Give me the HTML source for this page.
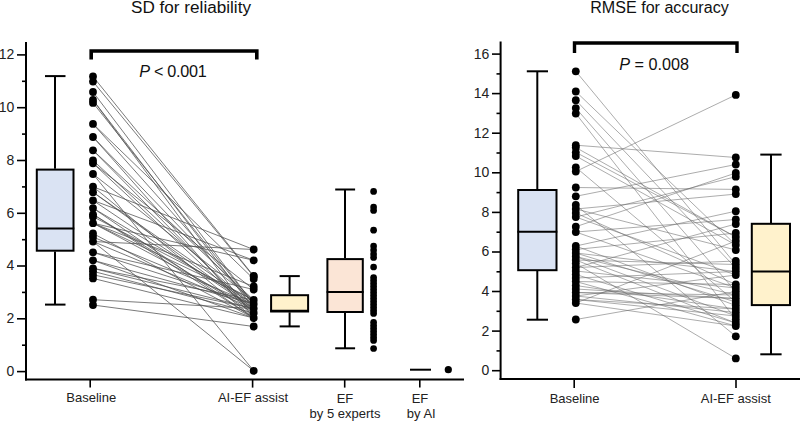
<!DOCTYPE html>
<html><head><meta charset="utf-8"><style>
html,body{margin:0;padding:0;background:#fff;width:800px;height:422px;overflow:hidden}
svg{display:block;font-family:"Liberation Sans", sans-serif}
</style></head><body>
<svg width="800" height="422" viewBox="0 0 800 422">
<rect width="800" height="422" fill="#fff"/>
<text x="191" y="13.2" font-size="15.6" text-anchor="middle" fill="#111" textLength="120" lengthAdjust="spacingAndGlyphs">SD for reliability</text>
<text x="659.5" y="13.2" font-size="15.6" text-anchor="middle" fill="#111" textLength="138.5" lengthAdjust="spacingAndGlyphs">RMSE for accuracy</text>
<g stroke="#4d4d4d" stroke-width="0.75" fill="none">
<line x1="93.0" y1="76.5" x2="253.7" y2="276"/>
<line x1="93.0" y1="81.6" x2="253.7" y2="276.5"/>
<line x1="93.0" y1="92" x2="253.7" y2="304"/>
<line x1="93.0" y1="100" x2="253.7" y2="308.5"/>
<line x1="93.0" y1="102.9" x2="253.7" y2="304"/>
<line x1="93.0" y1="123.9" x2="253.7" y2="279"/>
<line x1="93.0" y1="137" x2="253.7" y2="318"/>
<line x1="93.0" y1="150.3" x2="253.7" y2="300"/>
<line x1="93.0" y1="160.4" x2="253.7" y2="308.5"/>
<line x1="93.0" y1="163.3" x2="253.7" y2="313"/>
<line x1="93.0" y1="163.3" x2="253.7" y2="289.5"/>
<line x1="93.0" y1="174" x2="253.7" y2="370.8"/>
<line x1="93.0" y1="186.7" x2="253.7" y2="318"/>
<line x1="93.0" y1="192.2" x2="253.7" y2="304"/>
<line x1="93.0" y1="200.4" x2="253.7" y2="260.3"/>
<line x1="93.0" y1="200.4" x2="253.7" y2="308.5"/>
<line x1="93.0" y1="241.5" x2="253.7" y2="249.5"/>
<line x1="93.0" y1="208.1" x2="253.7" y2="304"/>
<line x1="93.0" y1="214.3" x2="253.7" y2="313"/>
<line x1="93.0" y1="216.7" x2="253.7" y2="300"/>
<line x1="93.0" y1="223.2" x2="253.7" y2="308.5"/>
<line x1="93.0" y1="223.2" x2="253.7" y2="286.5"/>
<line x1="93.0" y1="233.5" x2="253.7" y2="318"/>
<line x1="93.0" y1="237" x2="253.7" y2="304"/>
<line x1="93.0" y1="241.5" x2="253.7" y2="370.8"/>
<line x1="93.0" y1="241.5" x2="253.7" y2="308.5"/>
<line x1="93.0" y1="252.3" x2="253.7" y2="304"/>
<line x1="93.0" y1="252.3" x2="253.7" y2="289.5"/>
<line x1="93.0" y1="260.3" x2="253.7" y2="318"/>
<line x1="93.0" y1="268.3" x2="253.7" y2="300"/>
<line x1="93.0" y1="271.3" x2="253.7" y2="313"/>
<line x1="93.0" y1="274.8" x2="253.7" y2="308.5"/>
<line x1="93.0" y1="278.4" x2="253.7" y2="318"/>
<line x1="93.0" y1="299.7" x2="253.7" y2="308.5"/>
<line x1="93.0" y1="305" x2="253.7" y2="326.5"/>
<line x1="93.0" y1="186.7" x2="253.7" y2="249.5"/>
<line x1="93.0" y1="174" x2="253.7" y2="300"/>
<line x1="93.0" y1="214.3" x2="253.7" y2="318"/>
<line x1="93.0" y1="223.2" x2="253.7" y2="260.3"/>
<line x1="93.0" y1="260.3" x2="253.7" y2="304"/>
<line x1="93.0" y1="150.3" x2="253.7" y2="313"/>
<line x1="93.0" y1="123.9" x2="253.7" y2="304"/>
<line x1="93.0" y1="208.1" x2="253.7" y2="318"/>
<line x1="93.0" y1="223.2" x2="253.7" y2="300"/>
<line x1="93.0" y1="192.2" x2="253.7" y2="308.5"/>
<line x1="93.0" y1="137" x2="253.7" y2="304"/>
<line x1="93.0" y1="100" x2="253.7" y2="318"/>
<line x1="93.0" y1="268.3" x2="253.7" y2="308.5"/>
</g>
<g stroke="#666" stroke-width="0.55" fill="none">
<line x1="575.8" y1="71.3" x2="735.8" y2="264.5"/>
<line x1="575.8" y1="91.5" x2="735.8" y2="245"/>
<line x1="575.8" y1="100.2" x2="735.8" y2="268"/>
<line x1="575.8" y1="108.1" x2="735.8" y2="291.5"/>
<line x1="575.8" y1="113.5" x2="735.8" y2="319.5"/>
<line x1="575.8" y1="145.2" x2="735.8" y2="157.5"/>
<line x1="575.8" y1="171.5" x2="735.8" y2="94.9"/>
<line x1="575.8" y1="187.5" x2="735.8" y2="189.4"/>
<line x1="575.8" y1="263.5" x2="735.8" y2="358.4"/>
<line x1="575.8" y1="319.5" x2="735.8" y2="291.5"/>
<line x1="575.8" y1="205" x2="735.8" y2="336.3"/>
<line x1="575.8" y1="196.3" x2="735.8" y2="164.5"/>
<line x1="575.8" y1="226.7" x2="735.8" y2="173"/>
<line x1="575.8" y1="217" x2="735.8" y2="176.7"/>
<line x1="575.8" y1="209" x2="735.8" y2="194.1"/>
<line x1="575.8" y1="246" x2="735.8" y2="211.2"/>
<line x1="575.8" y1="232" x2="735.8" y2="219.5"/>
<line x1="575.8" y1="267.5" x2="735.8" y2="224"/>
<line x1="575.8" y1="249.5" x2="735.8" y2="233"/>
<line x1="575.8" y1="152.3" x2="735.8" y2="237"/>
<line x1="575.8" y1="147.5" x2="735.8" y2="237"/>
<line x1="575.8" y1="303" x2="735.8" y2="241"/>
<line x1="575.8" y1="156" x2="735.8" y2="245"/>
<line x1="575.8" y1="209" x2="735.8" y2="250"/>
<line x1="575.8" y1="267.5" x2="735.8" y2="261"/>
<line x1="575.8" y1="260" x2="735.8" y2="264.5"/>
<line x1="575.8" y1="278" x2="735.8" y2="271.5"/>
<line x1="575.8" y1="253" x2="735.8" y2="271.5"/>
<line x1="575.8" y1="217" x2="735.8" y2="275"/>
<line x1="575.8" y1="296" x2="735.8" y2="275"/>
<line x1="575.8" y1="281.5" x2="735.8" y2="284.5"/>
<line x1="575.8" y1="213" x2="735.8" y2="284.5"/>
<line x1="575.8" y1="232" x2="735.8" y2="288"/>
<line x1="575.8" y1="271" x2="735.8" y2="288"/>
<line x1="575.8" y1="292.5" x2="735.8" y2="295"/>
<line x1="575.8" y1="256.5" x2="735.8" y2="295"/>
<line x1="575.8" y1="289" x2="735.8" y2="298.5"/>
<line x1="575.8" y1="292.5" x2="735.8" y2="298.5"/>
<line x1="575.8" y1="253" x2="735.8" y2="302"/>
<line x1="575.8" y1="167.3" x2="735.8" y2="302"/>
<line x1="575.8" y1="246" x2="735.8" y2="305.5"/>
<line x1="575.8" y1="299.5" x2="735.8" y2="309"/>
<line x1="575.8" y1="285.5" x2="735.8" y2="309"/>
<line x1="575.8" y1="296" x2="735.8" y2="312.5"/>
<line x1="575.8" y1="256.5" x2="735.8" y2="316"/>
<line x1="575.8" y1="299.5" x2="735.8" y2="316"/>
<line x1="575.8" y1="260" x2="735.8" y2="323"/>
<line x1="575.8" y1="274.5" x2="735.8" y2="323"/>
<line x1="575.8" y1="281.5" x2="735.8" y2="326"/>
<line x1="575.8" y1="303" x2="735.8" y2="326"/>
</g>
<g stroke="#000" stroke-width="2" fill="none">
<line x1="26" y1="42" x2="26" y2="380.5"/>
<line x1="25" y1="379.6" x2="464" y2="379.6"/>
<line x1="500.6" y1="41.4" x2="500.6" y2="380"/>
<line x1="499.6" y1="379" x2="800" y2="379"/>
</g>
<g stroke="#000" stroke-width="1.6" fill="none">
<line x1="17" y1="371.6" x2="26" y2="371.6"/>
<line x1="22" y1="345.2" x2="26" y2="345.2"/>
<line x1="17" y1="318.8" x2="26" y2="318.8"/>
<line x1="22" y1="292.4" x2="26" y2="292.4"/>
<line x1="17" y1="266.0" x2="26" y2="266.0"/>
<line x1="22" y1="239.7" x2="26" y2="239.7"/>
<line x1="17" y1="213.3" x2="26" y2="213.3"/>
<line x1="22" y1="186.9" x2="26" y2="186.9"/>
<line x1="17" y1="160.5" x2="26" y2="160.5"/>
<line x1="22" y1="134.1" x2="26" y2="134.1"/>
<line x1="17" y1="107.7" x2="26" y2="107.7"/>
<line x1="22" y1="81.3" x2="26" y2="81.3"/>
<line x1="17" y1="54.9" x2="26" y2="54.9"/>
<line x1="492" y1="370.7" x2="500.6" y2="370.7"/>
<line x1="496.5" y1="350.9" x2="500.6" y2="350.9"/>
<line x1="492" y1="331.1" x2="500.6" y2="331.1"/>
<line x1="496.5" y1="311.3" x2="500.6" y2="311.3"/>
<line x1="492" y1="291.5" x2="500.6" y2="291.5"/>
<line x1="496.5" y1="271.8" x2="500.6" y2="271.8"/>
<line x1="492" y1="252.0" x2="500.6" y2="252.0"/>
<line x1="496.5" y1="232.2" x2="500.6" y2="232.2"/>
<line x1="492" y1="212.4" x2="500.6" y2="212.4"/>
<line x1="496.5" y1="192.6" x2="500.6" y2="192.6"/>
<line x1="492" y1="172.8" x2="500.6" y2="172.8"/>
<line x1="496.5" y1="153.0" x2="500.6" y2="153.0"/>
<line x1="492" y1="133.2" x2="500.6" y2="133.2"/>
<line x1="496.5" y1="113.4" x2="500.6" y2="113.4"/>
<line x1="492" y1="93.6" x2="500.6" y2="93.6"/>
<line x1="496.5" y1="73.9" x2="500.6" y2="73.9"/>
<line x1="492" y1="54.1" x2="500.6" y2="54.1"/>
<line x1="90.2" y1="379.6" x2="90.2" y2="387.6"/>
<line x1="252.6" y1="379.6" x2="252.6" y2="387.6"/>
<line x1="344.7" y1="379.6" x2="344.7" y2="387.6"/>
<line x1="419.8" y1="379.6" x2="419.8" y2="387.6"/>
<line x1="574.2" y1="379" x2="574.2" y2="388"/>
<line x1="736" y1="379" x2="736" y2="388"/>
</g>
<g font-size="14" fill="#222" text-anchor="end">
<text x="14.3" y="376.0">0</text>
<text x="14.3" y="323.2">2</text>
<text x="14.3" y="270.4">4</text>
<text x="14.3" y="217.7">6</text>
<text x="14.3" y="164.9">8</text>
<text x="14.3" y="112.1">10</text>
<text x="14.3" y="59.3">12</text>
<text x="489.3" y="375.1">0</text>
<text x="489.3" y="335.5">2</text>
<text x="489.3" y="295.9">4</text>
<text x="489.3" y="256.4">6</text>
<text x="489.3" y="216.8">8</text>
<text x="489.3" y="177.2">10</text>
<text x="489.3" y="137.6">12</text>
<text x="489.3" y="98.0">14</text>
<text x="489.3" y="58.5">16</text>
</g>
<g font-size="13" fill="#222" text-anchor="middle">
<text x="91.2" y="401.5">Baseline</text>
<text x="253" y="402">AI-EF assist</text>
<text x="345" y="402.5">EF</text>
<text x="345" y="418">by 5 experts</text>
<text x="420" y="402.5">EF</text>
<text x="421.3" y="418">by AI</text>
<text x="574.6" y="403">Baseline</text>
<text x="735.8" y="403.3">AI-EF assist</text>
</g>
<rect x="36.8" y="169.6" width="36.7" height="81.1" fill="#dae3f3" stroke="#000" stroke-width="2"/>
<line x1="36" y1="228.4" x2="74.3" y2="228.4" stroke="#000" stroke-width="2"/>
<line x1="55" y1="76.1" x2="55" y2="168.8" stroke="#000" stroke-width="2"/>
<line x1="55" y1="251.5" x2="55" y2="304.6" stroke="#000" stroke-width="2"/>
<line x1="45" y1="76.1" x2="65.5" y2="76.1" stroke="#000" stroke-width="2"/>
<line x1="45" y1="304.6" x2="65.5" y2="304.6" stroke="#000" stroke-width="2"/>
<rect x="271.1" y="295.2" width="37.0" height="16.3" fill="#fff2cc" stroke="#000" stroke-width="2"/>
<line x1="270.3" y1="310.8" x2="308.9" y2="310.8" stroke="#000" stroke-width="2"/>
<line x1="289.6" y1="276.1" x2="289.6" y2="294.4" stroke="#000" stroke-width="2"/>
<line x1="289.6" y1="312.3" x2="289.6" y2="326.4" stroke="#000" stroke-width="2"/>
<line x1="279.6" y1="276.1" x2="299.8" y2="276.1" stroke="#000" stroke-width="2"/>
<line x1="279.6" y1="326.4" x2="299.8" y2="326.4" stroke="#000" stroke-width="2"/>
<rect x="327.4" y="259.1" width="35.4" height="52.9" fill="#fbe5d6" stroke="#000" stroke-width="2"/>
<line x1="326.6" y1="292.1" x2="363.6" y2="292.1" stroke="#000" stroke-width="2"/>
<line x1="345" y1="189.5" x2="345" y2="258.3" stroke="#000" stroke-width="2"/>
<line x1="345" y1="312.8" x2="345" y2="348.3" stroke="#000" stroke-width="2"/>
<line x1="335.2" y1="189.5" x2="355.1" y2="189.5" stroke="#000" stroke-width="2"/>
<line x1="335.2" y1="348.3" x2="355.1" y2="348.3" stroke="#000" stroke-width="2"/>
<line x1="410" y1="369.7" x2="431" y2="369.7" stroke="#000" stroke-width="2"/>
<rect x="518.2" y="190.0" width="38.3" height="80.2" fill="#dae3f3" stroke="#000" stroke-width="2"/>
<line x1="517.4" y1="231.8" x2="557.3" y2="231.8" stroke="#000" stroke-width="2"/>
<line x1="537.3" y1="71.3" x2="537.3" y2="189.2" stroke="#000" stroke-width="2"/>
<line x1="537.3" y1="271" x2="537.3" y2="319.7" stroke="#000" stroke-width="2"/>
<line x1="526.8" y1="71.3" x2="548" y2="71.3" stroke="#000" stroke-width="2"/>
<line x1="526.8" y1="319.7" x2="548" y2="319.7" stroke="#000" stroke-width="2"/>
<rect x="751.8" y="223.8" width="38.2" height="81.3" fill="#fff2cc" stroke="#000" stroke-width="2"/>
<line x1="751" y1="271.6" x2="790.8" y2="271.6" stroke="#000" stroke-width="2"/>
<line x1="771" y1="154.6" x2="771" y2="223" stroke="#000" stroke-width="2"/>
<line x1="771" y1="305.9" x2="771" y2="354.3" stroke="#000" stroke-width="2"/>
<line x1="760.3" y1="154.6" x2="781.6" y2="154.6" stroke="#000" stroke-width="2"/>
<line x1="760.3" y1="354.3" x2="781.6" y2="354.3" stroke="#000" stroke-width="2"/>
<g fill="#000">
<circle cx="93.0" cy="76.5" r="3.9"/>
<circle cx="93.0" cy="81.6" r="3.9"/>
<circle cx="93.0" cy="92" r="3.9"/>
<circle cx="93.0" cy="100" r="3.9"/>
<circle cx="93.0" cy="102.9" r="3.9"/>
<circle cx="93.0" cy="123.9" r="3.9"/>
<circle cx="93.0" cy="137" r="3.9"/>
<circle cx="93.0" cy="150.3" r="3.9"/>
<circle cx="93.0" cy="160.4" r="3.9"/>
<circle cx="93.0" cy="163.3" r="3.9"/>
<circle cx="93.0" cy="174" r="3.9"/>
<circle cx="93.0" cy="186.7" r="3.9"/>
<circle cx="93.0" cy="192.2" r="3.9"/>
<circle cx="93.0" cy="200.4" r="3.9"/>
<circle cx="93.0" cy="208.1" r="3.9"/>
<circle cx="93.0" cy="214.3" r="3.9"/>
<circle cx="93.0" cy="216.7" r="3.9"/>
<circle cx="93.0" cy="223.2" r="3.9"/>
<circle cx="93.0" cy="233.5" r="3.9"/>
<circle cx="93.0" cy="237" r="3.9"/>
<circle cx="93.0" cy="241.5" r="3.9"/>
<circle cx="93.0" cy="252.3" r="3.9"/>
<circle cx="93.0" cy="260.3" r="3.9"/>
<circle cx="93.0" cy="268.3" r="3.9"/>
<circle cx="93.0" cy="271.3" r="3.9"/>
<circle cx="93.0" cy="274.8" r="3.9"/>
<circle cx="93.0" cy="278.4" r="3.9"/>
<circle cx="93.0" cy="299.7" r="3.9"/>
<circle cx="93.0" cy="305" r="3.9"/>
<circle cx="253.7" cy="249.5" r="3.9"/>
<circle cx="253.7" cy="260.3" r="3.9"/>
<circle cx="253.7" cy="276" r="3.9"/>
<circle cx="253.7" cy="276.5" r="3.9"/>
<circle cx="253.7" cy="279" r="3.9"/>
<circle cx="253.7" cy="286.5" r="3.9"/>
<circle cx="253.7" cy="289.5" r="3.9"/>
<circle cx="253.7" cy="300" r="3.9"/>
<circle cx="253.7" cy="304" r="3.9"/>
<circle cx="253.7" cy="308.5" r="3.9"/>
<circle cx="253.7" cy="313" r="3.9"/>
<circle cx="253.7" cy="318" r="3.9"/>
<circle cx="253.7" cy="326.5" r="3.9"/>
<circle cx="253.7" cy="370.8" r="3.9"/>
<circle cx="373.6" cy="191.4" r="3.35"/>
<circle cx="373.6" cy="207.1" r="3.35"/>
<circle cx="373.6" cy="210.5" r="3.35"/>
<circle cx="373.6" cy="230.2" r="3.35"/>
<circle cx="373.6" cy="246" r="3.35"/>
<circle cx="373.6" cy="250" r="3.35"/>
<circle cx="373.6" cy="254" r="3.35"/>
<circle cx="373.6" cy="257.5" r="3.35"/>
<circle cx="373.6" cy="267" r="3.35"/>
<circle cx="373.6" cy="277.5" r="3.35"/>
<circle cx="373.6" cy="280.5" r="3.35"/>
<circle cx="373.6" cy="283.5" r="3.35"/>
<circle cx="373.6" cy="286.5" r="3.35"/>
<circle cx="373.6" cy="289.5" r="3.35"/>
<circle cx="373.6" cy="292.5" r="3.35"/>
<circle cx="373.6" cy="295.5" r="3.35"/>
<circle cx="373.6" cy="298.5" r="3.35"/>
<circle cx="373.6" cy="301.5" r="3.35"/>
<circle cx="373.6" cy="304.5" r="3.35"/>
<circle cx="373.6" cy="307.5" r="3.35"/>
<circle cx="373.6" cy="310.5" r="3.35"/>
<circle cx="373.6" cy="313.4" r="3.35"/>
<circle cx="373.6" cy="322.3" r="3.35"/>
<circle cx="373.6" cy="325.5" r="3.35"/>
<circle cx="373.6" cy="328.5" r="3.35"/>
<circle cx="373.6" cy="331.5" r="3.35"/>
<circle cx="373.6" cy="334.5" r="3.35"/>
<circle cx="373.6" cy="337.5" r="3.35"/>
<circle cx="373.6" cy="340.4" r="3.35"/>
<circle cx="373.6" cy="348.5" r="3.35"/>
<circle cx="448.3" cy="369.7" r="3.6"/>
<circle cx="575.8" cy="71.3" r="3.9"/>
<circle cx="575.8" cy="91.5" r="3.9"/>
<circle cx="575.8" cy="100.2" r="3.9"/>
<circle cx="575.8" cy="108.1" r="3.9"/>
<circle cx="575.8" cy="113.5" r="3.9"/>
<circle cx="575.8" cy="145.2" r="3.9"/>
<circle cx="575.8" cy="147.5" r="3.9"/>
<circle cx="575.8" cy="152.3" r="3.9"/>
<circle cx="575.8" cy="156" r="3.9"/>
<circle cx="575.8" cy="167.3" r="3.9"/>
<circle cx="575.8" cy="171.5" r="3.9"/>
<circle cx="575.8" cy="187.5" r="3.9"/>
<circle cx="575.8" cy="196.3" r="3.9"/>
<circle cx="575.8" cy="205" r="3.9"/>
<circle cx="575.8" cy="209" r="3.9"/>
<circle cx="575.8" cy="213" r="3.9"/>
<circle cx="575.8" cy="217" r="3.9"/>
<circle cx="575.8" cy="226.7" r="3.9"/>
<circle cx="575.8" cy="232" r="3.9"/>
<circle cx="575.8" cy="246" r="3.9"/>
<circle cx="575.8" cy="249.5" r="3.9"/>
<circle cx="575.8" cy="253" r="3.9"/>
<circle cx="575.8" cy="256.5" r="3.9"/>
<circle cx="575.8" cy="260" r="3.9"/>
<circle cx="575.8" cy="263.5" r="3.9"/>
<circle cx="575.8" cy="267.5" r="3.9"/>
<circle cx="575.8" cy="271" r="3.9"/>
<circle cx="575.8" cy="274.5" r="3.9"/>
<circle cx="575.8" cy="278" r="3.9"/>
<circle cx="575.8" cy="281.5" r="3.9"/>
<circle cx="575.8" cy="285.5" r="3.9"/>
<circle cx="575.8" cy="289" r="3.9"/>
<circle cx="575.8" cy="292.5" r="3.9"/>
<circle cx="575.8" cy="296" r="3.9"/>
<circle cx="575.8" cy="299.5" r="3.9"/>
<circle cx="575.8" cy="303" r="3.9"/>
<circle cx="575.8" cy="319.5" r="3.9"/>
<circle cx="735.8" cy="94.9" r="3.9"/>
<circle cx="735.8" cy="157.5" r="3.9"/>
<circle cx="735.8" cy="164.5" r="3.9"/>
<circle cx="735.8" cy="173" r="3.9"/>
<circle cx="735.8" cy="176.7" r="3.9"/>
<circle cx="735.8" cy="189.4" r="3.9"/>
<circle cx="735.8" cy="194.1" r="3.9"/>
<circle cx="735.8" cy="211.2" r="3.9"/>
<circle cx="735.8" cy="219.5" r="3.9"/>
<circle cx="735.8" cy="224" r="3.9"/>
<circle cx="735.8" cy="233" r="3.9"/>
<circle cx="735.8" cy="237" r="3.9"/>
<circle cx="735.8" cy="241" r="3.9"/>
<circle cx="735.8" cy="245" r="3.9"/>
<circle cx="735.8" cy="250" r="3.9"/>
<circle cx="735.8" cy="261" r="3.9"/>
<circle cx="735.8" cy="264.5" r="3.9"/>
<circle cx="735.8" cy="268" r="3.9"/>
<circle cx="735.8" cy="271.5" r="3.9"/>
<circle cx="735.8" cy="275" r="3.9"/>
<circle cx="735.8" cy="284.5" r="3.9"/>
<circle cx="735.8" cy="288" r="3.9"/>
<circle cx="735.8" cy="291.5" r="3.9"/>
<circle cx="735.8" cy="295" r="3.9"/>
<circle cx="735.8" cy="298.5" r="3.9"/>
<circle cx="735.8" cy="302" r="3.9"/>
<circle cx="735.8" cy="305.5" r="3.9"/>
<circle cx="735.8" cy="309" r="3.9"/>
<circle cx="735.8" cy="312.5" r="3.9"/>
<circle cx="735.8" cy="316" r="3.9"/>
<circle cx="735.8" cy="319.5" r="3.9"/>
<circle cx="735.8" cy="323" r="3.9"/>
<circle cx="735.8" cy="326" r="3.9"/>
<circle cx="735.8" cy="336.3" r="3.9"/>
<circle cx="735.8" cy="358.4" r="3.9"/>
</g>
<path d="M91.2 59.5 V51 H256.8 V59.5" fill="none" stroke="#000" stroke-width="3.6"/>
<path d="M574.5 53 V43 H737 V53" fill="none" stroke="#000" stroke-width="3.4"/>
<text x="139.3" y="76.8" font-size="16.2" letter-spacing="-0.3" fill="#111"><tspan font-style="italic">P</tspan> &lt; 0.001</text>
<text x="619.3" y="70" font-size="16.2" letter-spacing="0" fill="#111"><tspan font-style="italic">P</tspan> = 0.008</text>
</svg>
</body></html>
